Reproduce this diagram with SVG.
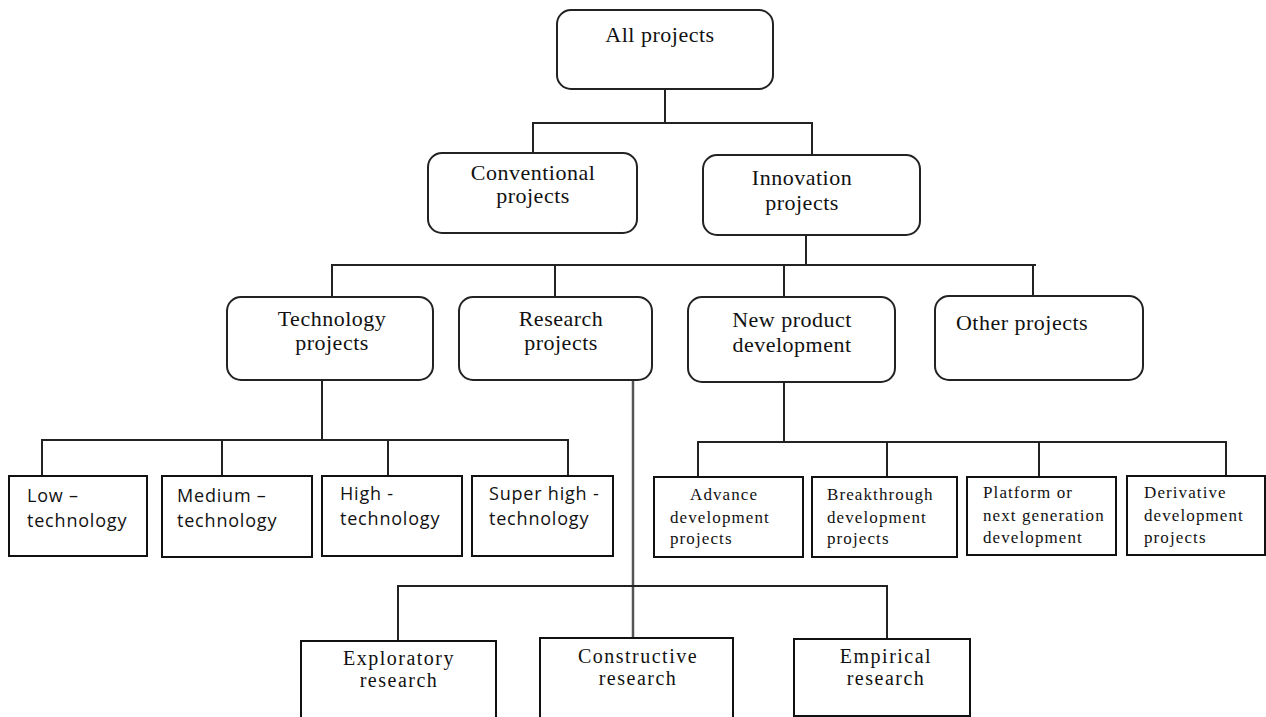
<svg xmlns="http://www.w3.org/2000/svg" width="1266" height="717" viewBox="0 0 1266 717">
  <style>
    .rbox { fill: #ffffff; stroke: #222222; stroke-width: 2; }
    .box { fill: #ffffff; stroke: #111111; stroke-width: 2; }
    .link { fill: none; stroke: #222222; stroke-width: 2; stroke-linecap: square; }
    .link-soft { fill: none; stroke: #555555; stroke-width: 2.5; }
    .t1 { font-family: "Liberation Serif", "Times New Roman", serif; font-size: 22px; letter-spacing: 0.5px; fill: #111111; text-anchor: middle; }
    .t2 { font-family: "Open Sans", "Liberation Sans", sans-serif; font-size: 18px; letter-spacing: 0.8px; fill: #111111; }
    .t3 { font-family: "Liberation Serif", "Times New Roman", serif; font-size: 17px; letter-spacing: 1.1px; fill: #111111; }
    .t4 { font-family: "Liberation Serif", "Times New Roman", serif; font-size: 20px; letter-spacing: 1.5px; fill: #111111; text-anchor: middle; }
  </style>

  <rect width="1266" height="717" fill="#ffffff"/>

  <!-- connectors -->
  <g id="connectors">
    <!-- root to first level -->
    <path class="link" d="M665 89 V123 M533 123 H812 M533 123 V153 M812 123 V155"/>
    <!-- innovation projects to its four children -->
    <path class="link" d="M806 235 V265 M332 265 H1035 M332 265 V297 M555 265 V297 M784 265 V297 M1033 265 V296"/>
    <!-- technology projects to technology levels -->
    <path class="link" d="M322 380 V440 M42 440 H568 M42 440 V476 M222 440 V476 M388 440 V476 M568 440 V476"/>
    <!-- new product development to development types -->
    <path class="link" d="M784 382 V442 M698 442 H1226 M698 442 V477 M887 442 V477 M1039 442 V477 M1226 442 V476"/>
    <!-- research projects to research types -->
    <path class="link-soft" d="M633 380 V638"/>
    <path class="link" d="M398 586 H887 M398 586 V641 M887 586 V639"/>
  </g>

  <!-- top level -->
  <g id="all-projects">
    <rect class="rbox" x="557" y="10" width="216" height="79" rx="14"/>
    <text class="t1" x="660" y="42">All projects</text>
  </g>

  <!-- first level -->
  <g id="conventional-projects">
    <rect class="rbox" x="428" y="153" width="209" height="80" rx="14"/>
    <text class="t1" x="533" y="180">Conventional</text>
    <text class="t1" x="533" y="203">projects</text>
  </g>
  <g id="innovation-projects">
    <rect class="rbox" x="703" y="155" width="217" height="80" rx="14"/>
    <text class="t1" x="802" y="185">Innovation</text>
    <text class="t1" x="802" y="210">projects</text>
  </g>

  <!-- second level -->
  <g id="technology-projects">
    <rect class="rbox" x="227" y="297" width="206" height="83" rx="14"/>
    <text class="t1" x="332" y="326">Technology</text>
    <text class="t1" x="332" y="350">projects</text>
  </g>
  <g id="research-projects">
    <rect class="rbox" x="459" y="297" width="193" height="83" rx="14"/>
    <text class="t1" x="561" y="326">Research</text>
    <text class="t1" x="561" y="350">projects</text>
  </g>
  <g id="new-product-development">
    <rect class="rbox" x="688" y="297" width="207" height="85" rx="14"/>
    <text class="t1" x="792" y="327">New product</text>
    <text class="t1" x="792" y="352">development</text>
  </g>
  <g id="other-projects">
    <rect class="rbox" x="935" y="296" width="208" height="84" rx="14"/>
    <text class="t1" x="1022" y="330">Other projects</text>
  </g>

  <!-- technology levels -->
  <g id="low-technology">
    <rect class="box" x="9" y="476" width="138" height="80"/>
    <text class="t2" x="27" y="502">Low –</text>
    <text class="t2" x="27" y="527">technology</text>
  </g>
  <g id="medium-technology">
    <rect class="box" x="162" y="476" width="150" height="81"/>
    <text class="t2" x="177" y="502">Medium –</text>
    <text class="t2" x="177" y="527">technology</text>
  </g>
  <g id="high-technology">
    <rect class="box" x="322" y="476" width="140" height="80"/>
    <text class="t2" x="340" y="500">High -</text>
    <text class="t2" x="340" y="525">technology</text>
  </g>
  <g id="super-high-technology">
    <rect class="box" x="472" y="476" width="141" height="80"/>
    <text class="t2" x="489" y="500">Super high -</text>
    <text class="t2" x="489" y="525">technology</text>
  </g>

  <!-- development project types -->
  <g id="advance-development">
    <rect class="box" x="654" y="477" width="149" height="80"/>
    <text class="t3" x="690" y="500">Advance</text>
    <text class="t3" x="670" y="523">development</text>
    <text class="t3" x="670" y="544">projects</text>
  </g>
  <g id="breakthrough-development">
    <rect class="box" x="812" y="477" width="145" height="80"/>
    <text class="t3" x="827" y="500">Breakthrough</text>
    <text class="t3" x="827" y="523">development</text>
    <text class="t3" x="827" y="544">projects</text>
  </g>
  <g id="platform-development">
    <rect class="box" x="967" y="477" width="149" height="78"/>
    <text class="t3" x="983" y="498">Platform or</text>
    <text class="t3" x="983" y="521">next generation</text>
    <text class="t3" x="983" y="543">development</text>
  </g>
  <g id="derivative-development">
    <rect class="box" x="1127" y="476" width="138" height="79"/>
    <text class="t3" x="1144" y="498">Derivative</text>
    <text class="t3" x="1144" y="521">development</text>
    <text class="t3" x="1144" y="543">projects</text>
  </g>

  <!-- research types -->
  <g id="exploratory-research">
    <rect class="box" x="301" y="641" width="195" height="90"/>
    <text class="t4" x="399" y="665">Exploratory</text>
    <text class="t4" x="399" y="687">research</text>
  </g>
  <g id="constructive-research">
    <rect class="box" x="540" y="638" width="193" height="90"/>
    <text class="t4" x="638" y="663">Constructive</text>
    <text class="t4" x="638" y="685">research</text>
  </g>
  <g id="empirical-research">
    <rect class="box" x="794" y="639" width="176" height="77"/>
    <text class="t4" x="886" y="663">Empirical</text>
    <text class="t4" x="886" y="685">research</text>
  </g>
</svg>
